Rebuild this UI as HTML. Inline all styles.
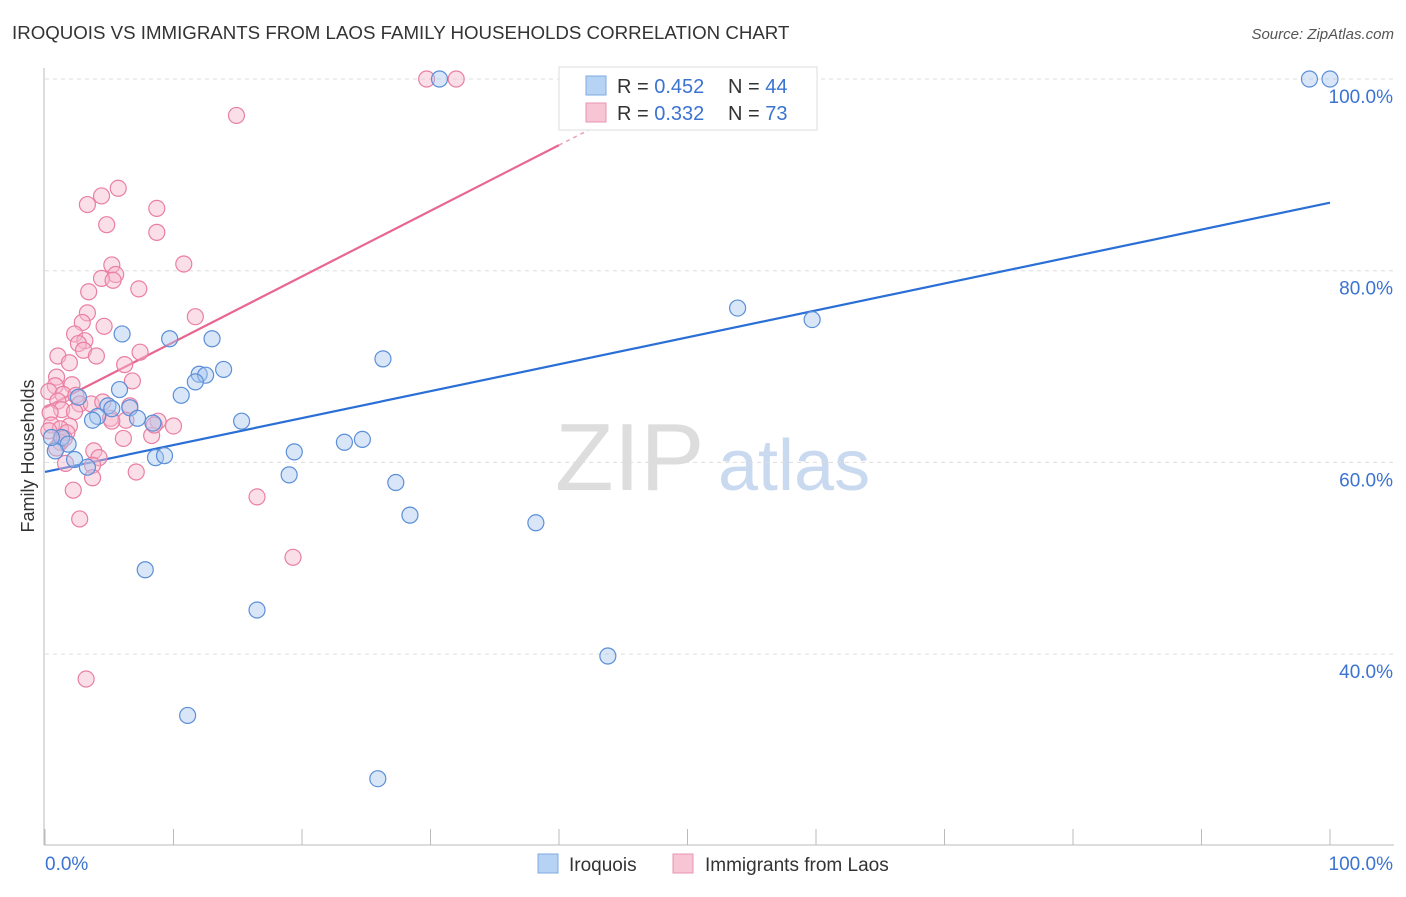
<!DOCTYPE html>
<html><head><meta charset="utf-8">
<style>
body{margin:0;background:#fff;font-family:"Liberation Sans",sans-serif;}
svg text{font-family:"Liberation Sans",sans-serif;}
</style></head>
<body>
<svg id="chart" width="1406" height="892" xmlns="http://www.w3.org/2000/svg">
<text x="12" y="39" font-size="18.7" fill="#333">IROQUOIS VS IMMIGRANTS FROM LAOS FAMILY HOUSEHOLDS CORRELATION CHART</text>
<text x="1394" y="39" font-size="15" fill="#555" text-anchor="end" font-style="italic">Source: ZipAtlas.com</text>
<text x="555" y="490" font-size="96" fill="#ddd" font-family="Liberation Serif">ZIP</text>
<text x="718" y="490" font-size="72" fill="#c9d9ef">atlas</text>
<text transform="translate(34,456) rotate(-90)" font-size="18" fill="#333" text-anchor="middle">Family Households</text>
<g id="grid"></g><g id="axes"></g><g id="trends"></g><g id="points"></g>
<g>
<rect x="559" y="67" width="258" height="63" fill="#fff" stroke="#ddd"/>
<rect x="586" y="76" width="20" height="19" fill="#b7d3f4" stroke="#7fa9e0"/>
<text x="617" y="93" font-size="20" fill="#333">R = <tspan fill="#3b73d1">0.452</tspan></text>
<text x="728" y="93" font-size="20" fill="#333">N = <tspan fill="#3b73d1">44</tspan></text>
<rect x="586" y="103" width="20" height="19" fill="#f8c5d4" stroke="#e994b0"/>
<text x="617" y="120" font-size="20" fill="#333">R = <tspan fill="#3b73d1">0.332</tspan></text>
<text x="728" y="120" font-size="20" fill="#333">N = <tspan fill="#3b73d1">73</tspan></text>
</g>
<g>
<rect x="538" y="854" width="20" height="19" fill="#b7d3f4" stroke="#7fa9e0"/>
<text x="569" y="871" font-size="19" fill="#333">Iroquois</text>
<rect x="673" y="854" width="20" height="19" fill="#f8c5d4" stroke="#e994b0"/>
<text x="705" y="871" font-size="19" fill="#333">Immigrants from Laos</text>
</g>
</svg>
<script>
const yTicks=[40,60,80,100];
const yTickLabels=["40.0%","60.0%","80.0%","100.0%"];
const xTickLabels=["0.0%","100.0%"];
const blueX=[30.7,98.4,100,53.9,59.7,6.0,9.7,13.0,26.3,13.9,12.0,12.5,11.7,10.6,5.8,2.6,4.9,5.2,6.6,4.1,3.7,7.2,8.4,15.3,23.3,24.7,19.4,1.3,1.8,0.8,2.3,3.3,8.6,9.3,19.0,27.3,28.4,38.2,7.8,16.5,43.8,11.1,25.9,0.5];
const blueY=[100,100,100,76.1,74.9,73.4,72.9,72.9,70.8,69.7,69.2,69.1,68.4,67.0,67.6,66.8,65.9,65.6,65.7,64.8,64.4,64.6,64.1,64.3,62.1,62.4,61.1,62.6,61.9,61.2,60.3,59.5,60.5,60.7,58.7,57.9,54.5,53.7,48.8,44.6,39.8,33.6,27.0,62.6];
const pinkX=[29.7,32.0,14.9,5.7,4.4,3.3,8.7,4.8,8.7,10.8,5.2,5.5,4.4,5.3,3.4,7.3,3.3,11.7,2.9,4.6,2.3,3.1,2.6,3.0,7.4,1.0,4.0,1.9,6.2,0.9,0.8,2.1,6.8,0.3,1.4,2.4,1.0,2.7,3.6,6.6,1.3,2.3,0.4,5.1,6.3,8.8,10.0,5.2,0.5,1.9,1.2,0.3,1.7,8.3,6.1,1.2,0.9,3.8,4.2,1.6,3.7,7.1,3.7,2.2,16.5,2.7,19.3,3.2,8.5,1.5,4.5];
const pinkY=[100,100,96.2,88.6,87.8,86.9,86.5,84.8,84.0,80.7,80.6,79.6,79.2,79.0,77.8,78.1,75.6,75.2,74.6,74.2,73.4,72.7,72.4,71.7,71.5,71.1,71.1,70.4,70.2,68.9,68.0,68.1,68.5,67.4,67.1,67.0,66.4,66.1,66.1,65.9,65.5,65.3,65.2,64.6,64.4,64.3,63.8,64.3,63.9,63.8,63.5,63.3,63.1,62.8,62.5,62.1,61.5,61.2,60.5,59.9,59.7,59.0,58.4,57.1,56.4,54.1,50.1,37.4,63.9,62.5,66.3];
const blueTrend=[59.0,87.1];   // values at x=0 and x=100
const pinkTrend=[65.7,93.1];   // values at x=0 and x=40
const NS="http://www.w3.org/2000/svg";
const X=v=>45+v*12.85, Y=v=>79+(100-v)*9.585;
function mk(parent,tag,attrs){const e=document.createElementNS(NS,tag);for(const k in attrs)e.setAttribute(k,attrs[k]);document.getElementById(parent).appendChild(e);return e;}
yTicks.forEach((t,i)=>{
 const l=mk('grid','line',{x1:45,x2:1394,y1:Y(t),y2:Y(t),stroke:'#ddd','stroke-dasharray':'4,4'});
 
 
 const tx=mk('grid','text',{x:1393,y:Y(t)+24,'font-size':19,fill:'#3b73d1','text-anchor':'end'});
 tx.textContent=yTickLabels[i];
 
 
});
const ax=mk('axes','line',{x1:44,x2:44,y1:68,y2:845,stroke:'#bbb'});


const bx=mk('axes','line',{x1:44,x2:1394,y1:845,y2:845,stroke:'#bbb'});


for(let i=0;i<=10;i++){const t=mk('axes','line',{x1:X(i*10),x2:X(i*10),y1:829,y2:845,stroke:'#bbb'});
 
 }
[[0,'start',45],[100,'end',1393]].forEach((d,i)=>{const t=mk('axes','text',{x:d[2],y:870,'font-size':19,fill:'#3b73d1','text-anchor':d[1]});t.textContent=xTickLabels[i];
 
 });
function pts(xs,ys,fill,stroke,name){xs.forEach((x,i)=>{const c=mk('points','circle',{cx:X(x),cy:Y(ys[i]),r:8,fill:fill,'fill-opacity':0.45,stroke:stroke,'stroke-width':1.2});
 
 });}
pts(pinkX,pinkY,'#f7b8cc','#e97fa2','laos-point');
pts(blueX,blueY,'#a9c8ef','#5b8fd8','iroquois-point');
const bl=mk('trends','line',{x1:X(0),y1:Y(blueTrend[0]),x2:X(100),y2:Y(blueTrend[1]),stroke:'#2a6fd6','stroke-width':2.2});


const ps=(pinkTrend[1]-pinkTrend[0])/40;
const pl=mk('trends','line',{x1:X(0),y1:Y(pinkTrend[0]),x2:X(40),y2:Y(pinkTrend[0]+ps*40),stroke:'#e8668f','stroke-width':2.2});


const pd=mk('trends','line',{x1:X(40),y1:Y(pinkTrend[0]+ps*40),x2:X(43.2),y2:Y(pinkTrend[0]+ps*43.2),stroke:'#e8a0b8','stroke-width':1.5,'stroke-dasharray':'4,4'});


</script>
</body></html>
